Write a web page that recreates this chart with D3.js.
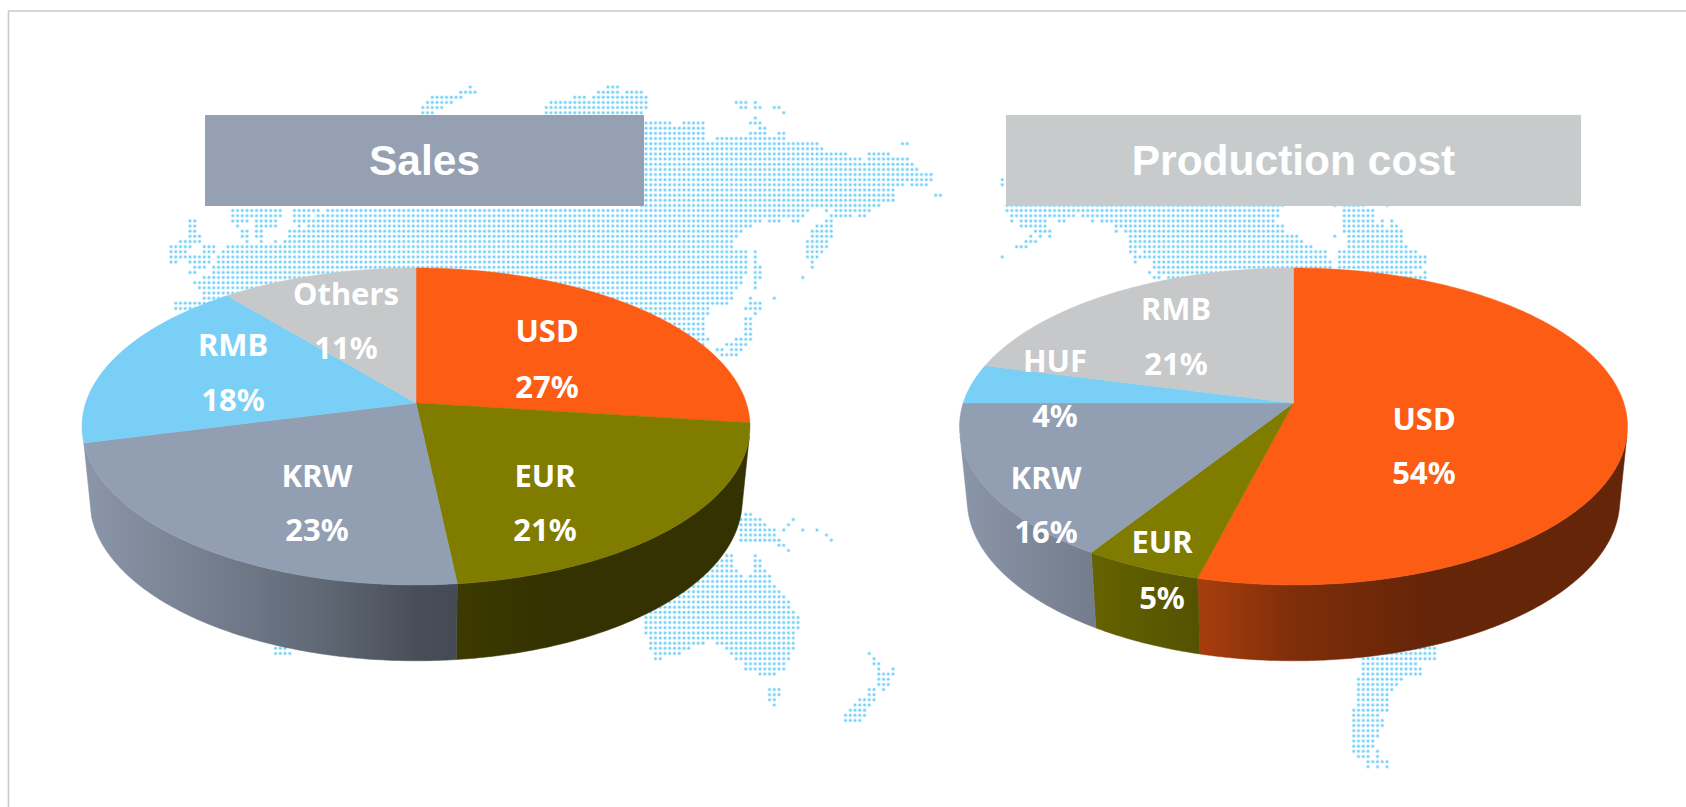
<!DOCTYPE html>
<html>
<head>
<meta charset="utf-8">
<script src="https://cdn.jsdelivr.net/npm/d3@7/dist/d3.min.js"></script>
<style>
html,body{margin:0;padding:0;background:#fff;overflow:hidden}
svg{display:block}
</style>
</head>
<body>
<svg id="chart" width="1686" height="807"></svg>
<script>
// ---------- chart data ----------
const salesCategories = ["USD", "EUR", "KRW", "RMB", "Others"];
const salesValues     = [27, 21.3, 22.7, 18, 11];
const costCategories  = ["USD", "EUR", "KRW", "HUF", "RMB"];
const costValues      = [54, 5, 16, 4, 21];
const titles          = ["Sales", "Production cost"];
const salesColors     = ["#FD5C14", "#807C00", "#929EB2", "#79CFF5", "#C6C8C9"];
const costColors      = ["#FD5C14", "#807C00", "#929EB2", "#79CFF5", "#C6C8C9"];

// dotted world map: "row:colFrom-colTo,..." cells of a regular dot grid
const mapRows = [
"0:63,92-94","1:61-64,90-94,96-99","2:55-61,85-87,89-100","3:54-59,80-100,119-121,123","4:53-57,79-100,120-121,123-124,127-128",
"5:53-55,79-99,129","6:123","7:100-105,108-112,122-124","8:100-112,124-125","9:100-112,122-125,128-129",
"10:100-112,115-129","11:100-136,154-155","12:100-137","13:100-142,147-151","14:100-145,147-155","15:100-156","16:100-157",
"17:100-160","18:100-160,175","19:100-154,156-159,175","20:100-152","21:100-152,161-162","22:100-152",
"23:99-149,176-234,245,247-251,256",
"24:13-23,26-31,33-134,138,140-147,176-233,247-253",
"25:13-23,26-29,31-133,139-143,145-146,177-190,192-233,247-253",
"26:4-5,13-16,18-22,26-124,126-128,131-132,138-139,177,179-184,187-188,194,196-232,247-253,255,257",
"27:4-5,14,18-22,27,29-122,136-139,179-184,199-234,247-255,257-258",
"28:4-5,15-16,18-19,25-120,135-139,182-185,199,201-234,247-259",
"29:4-6,15-16,18-19,25-119,135-139,181,183,185,202-237,245,248-259",
"30:2-6,16,19,22,24-118,134-138,180-182,202-238,248-259",
"31:0-4,7-9,12-118,134-138,178-180,202-240,248-260",
"32:0-3,7-9,11-121,123,134-137,202-203,205-243,246-262",
"33:0-8,10-121,123,134-136,175,203,204-243,246-264",
"34:0-1,4-8,10-121,123,135,203,207-244,246-264",
"35:5-7,9-121,123-124,135,207-244,246-263",
"36:4-5,9-121,123-124,206,208-261,264",
"37:7-120,123-124,133,207-208,210-262,263-264",
"38:5-120,123,213-262","39:6-119,123","40:7-118","41:7-118,122,127","42:1-117,122-124","43:1-113,121-124","44:30-113,123",
"45:60-112,121-122","46:60-112,121-122","47:90-112,121-122","48:95-112,121-122","49:95-113,119-122",
"50:95-112,117-121","51:115-116,118-120","52:116-119",
"83:121-122","84:120-124,131","85:120-125,130","86:120-127,129,133,136","87:120-127,138","88:120-128,139","89:128-129","90:130",
"91:117-118,123","92:115-118,123-124","93:114-118,123-124","94:113-119,123-125","95:112-120,122-126",
"96:110-126","97:108-127","98:106-128","99:104-129","100:102-130","101:102-130","102:100-131","103:100-132","104:100-132","105:100-132",
"106:100-131","107:22-28,101-131","108:22-27,101-112,115-131","109:22-24,101-109,117-131,265-266,252-264",
"110:22-25,102-107,118-130,147,248-266","111:102-103,119-130,148,251-266",
"112:121-129,148-149,251-262","113:121-129,149,152,251-263","114:124-127,149-152,251-263","115:149-151,250-259","116:149-151,250-258",
"117:126-128,147-148,150,250-257","118:126-128,147-148,250-256","119:126-127,145-148,250-256","120:127,144-147,250-256",
"121:143-146,249-256","122:142-146,249-254","123:142-145,249-255","124:249-255","125:249-254","126:249-254","127:249-253","128:249-253",
"129:249-252,254","130:250-252,254","131:252-256","132:252,254,256"
];

// ---------- layout (not data) ----------
const W = 1686, H = 807;
const pieCenters = [416, 1293.5];
const apexY = 403, perspective = -0.148, planeRx = 330.3, planeRy = 155;
const topEllipseMidY = 426.5, bottomEllipseMidY = 500, bottomScaleX = 0.977, bottomScaleY = 1.015;
const wallFrom = 102 * Math.PI / 180, wallTo = 258 * Math.PI / 180;
const titleBoxes = [{x:205, w:439, fill:"#95A1B3"}, {x:1006, w:575, fill:"#C8CBCC"}];
const salesLabelAt = [[547,330,386],[545,475,529],[317,475,529],[233,344,399],[346,293,346.5]];
const costLabelAt  = [[1424,418,472],[1162,541,597],[1046,476.5,531],[1055,360,415],[1176,308,362.5]];
// wall brightness as a function of horizontal position over the pie
const wallShade = [[0,.95],[.2,.79],[.36,.66],[.5,.5],[.6,.45],[.7,.40],[1,.40]];

const svg = d3.select("#chart");
const defs = svg.append("defs");

// frame
svg.append("path").attr("d", d3.line()([[8.5,807],[8.5,11],[1686,11]]))
   .attr("fill","none").attr("stroke","#cbcbcb").attr("stroke-width",1.6);

// dotted map
const xCol = d3.scaleLinear().domain([0,100]).range([171,646]);
const yRow = d3.scaleLinear().domain([0,100]).range([87,602]);
const dots = mapRows.flatMap(s => {
  const [r, runs] = s.split(":");
  return runs.split(",").filter(Boolean).flatMap(run => {
    const [a, b] = run.split("-").map(Number);
    return d3.range(a, (b === undefined ? a : b) + 1).map(c => ({r:+r, c}));
  });
});
const mapG = svg.append("g");
mapG.selectAll("circle.halo").data(dots).join("circle").attr("class","halo")
  .attr("cx", d => xCol(d.c)).attr("cy", d => yRow(d.r)).attr("r", 2.1).attr("fill","#d6f1fc");
mapG.selectAll("circle.dot").data(dots).join("circle").attr("class","dot")
  .attr("cx", d => xCol(d.c)).attr("cy", d => yRow(d.r)).attr("r", 1.25).attr("fill","#78D2F9");

// title boxes
titleBoxes.forEach((b,i) => {
  svg.append("rect").attr("x",b.x).attr("y",115).attr("width",b.w).attr("height",91).attr("fill",b.fill);
  svg.append("text").attr("x",b.x+b.w/2).attr("y",175).attr("text-anchor","middle")
    .attr("font-family","'Liberation Sans',Arial,sans-serif").attr("font-weight",700).attr("font-size",42.5)
    .attr("fill","#fff").text(titles[i]);
});

// perspective projection of a point on the pie's rim plane
function project(cx, angle) {
  const u = Math.sin(angle), v = -Math.cos(angle);
  const w = 1 + perspective * v;
  return [cx + planeRx * u / w, apexY + planeRy * v / w];
}
function toBottom(cx, p) {
  return [cx + bottomScaleX * (p[0] - cx), bottomEllipseMidY + bottomScaleY * (p[1] - topEllipseMidY)];
}
const lineGen = d3.line();
const arcSamples = (a0, a1) => {
  const n = Math.max(2, Math.ceil((a1 - a0) / 0.01));
  return d3.range(n + 1).map(i => a0 + (a1 - a0) * i / n);
};

function drawPie(idx, cats, vals, colors, labelAt) {
  const cx = pieCenters[idx];
  const arcs = d3.pie().sort(null).startAngle(0).endAngle(2 * Math.PI)(vals);
  const g = svg.append("g");

  // outer wall
  arcs.forEach((a, i) => {
    const lo = Math.max(a.startAngle, wallFrom), hi = Math.min(a.endAngle, wallTo);
    if (hi - lo < 0.08) return;
    const id = `wall${idx}-${i}`;
    const grad = defs.append("linearGradient").attr("id", id)
      .attr("gradientUnits","userSpaceOnUse")
      .attr("x1", cx - 334).attr("x2", cx + 334).attr("y1",0).attr("y2",0);
    wallShade.forEach(([o, f]) => {
      const c = d3.rgb(colors[i]);
      grad.append("stop").attr("offset", o).attr("stop-color", d3.rgb(c.r*f, c.g*f, c.b*f).formatHex());
    });
    const topPts = arcSamples(lo, hi).map(t => project(cx, t));
    const botPts = topPts.map(p => toBottom(cx, p)).reverse();
    g.append("path").attr("d", lineGen(topPts.concat(botPts)) + "Z")
      .attr("fill", `url(#${id})`).attr("stroke", `url(#${id})`).attr("stroke-width", .5);
  });

  // top surface
  arcs.forEach((a, i) => {
    const pts = [[cx, apexY]].concat(arcSamples(a.startAngle, a.endAngle).map(t => project(cx, t)));
    g.append("path").attr("d", lineGen(pts) + "Z")
      .attr("fill", colors[i]).attr("stroke", colors[i]).attr("stroke-width", .5);
  });

  // labels
  arcs.forEach((a, i) => {
    const [lx, y1, y2] = labelAt[i];
    [[cats[i], y1], [Math.round(a.value) + "%", y2]].forEach(([t, y]) => {
      g.append("text").attr("x", lx).attr("y", y).attr("text-anchor","middle").attr("dominant-baseline","central")
        .attr("font-family","'Noto Sans','Open Sans',sans-serif").attr("font-weight",700).attr("font-size",31)
        .attr("fill","#fff").text(t);
    });
  });
}
drawPie(0, salesCategories, salesValues, salesColors, salesLabelAt);
drawPie(1, costCategories, costValues, costColors, costLabelAt);
</script>
</body>
</html>
